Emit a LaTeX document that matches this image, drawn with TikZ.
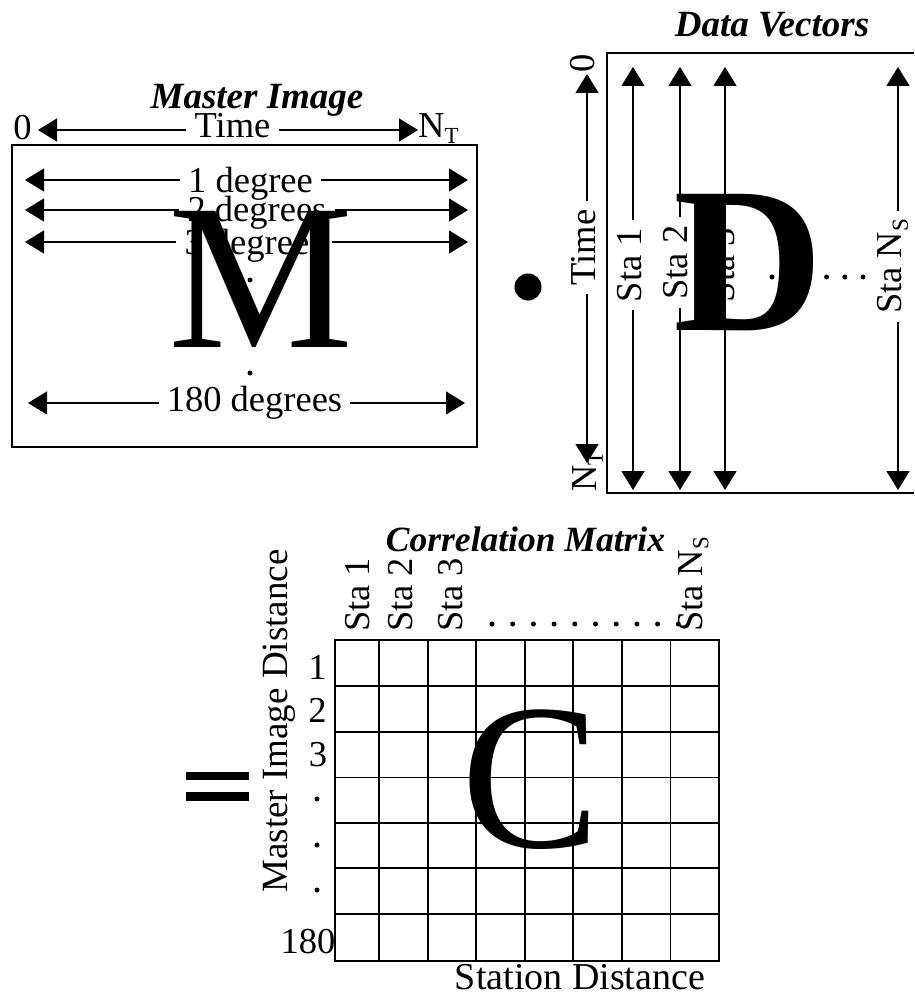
\documentclass[tikz,border=0pt]{standalone}
\usepackage{fontspec}
\setmainfont{Liberation Serif}
\usetikzlibrary{arrows.meta}

\newcommand*{\subtxt}[1]{\raisebox{-6pt}{\fontsize{23}{23}\selectfont #1}}
\newcommand*{\dvtop}{67}
\newcommand*{\dvbot}{490}

\begin{document}
\begin{tikzpicture}
[
	x=1pt,
	y=-1pt,
	every node/.style={inner sep=0pt,font=\fontsize{36.5}{40}\selectfont},
	lbl/.style={inner xsep=8pt},
	vlbl/.style={inner xsep=8pt,rotate=90},
	vec/.style={line width=1.3pt,-{Triangle[length=19pt,width=23pt]}},
	frame/.style={line width=1.8pt},
	heading/.style={font=\fontsize{37}{40}\selectfont\bfseries\itshape},
	bigletter/.style={font=\fontsize{208}{208}\selectfont}
]
	\useasboundingbox (0,0) rectangle (914,995);

	% master image
	\node[heading] (mtitle) at (257,100) {Master Image};
	\draw[frame] (12,145) rectangle (477,447);

	\node (m0) at (22.5,127.5) {0};
	\node[anchor=west] (mnt) at (418,129) {N\subtxt{T}};
	\node[lbl] (mtime) at (232.5,126) {Time};
	\coordinate (mtimeL) at (38,130);
	\coordinate (mtimeR) at (418,130);
	\draw[vec] (mtime.west |- mtimeL) -- (mtimeL);
	\draw[vec] (mtime.east |- mtimeR) -- (mtimeR);

	\node[lbl] (deg1) at (250.5,184) {1 degree};
	\coordinate (deg1L) at (25,180);
	\coordinate (deg1R) at (468,180);
	\draw[vec] (deg1.west |- deg1L) -- (deg1L);
	\draw[vec] (deg1.east |- deg1R) -- (deg1R);

	\node[lbl] (deg2) at (257,212.5) {2 degrees};
	\coordinate (deg2L) at (25,210);
	\coordinate (deg2R) at (468,210);
	\draw[vec] (deg2.west |- deg2L) -- (deg2L);
	\draw[vec] (deg2.east |- deg2R) -- (deg2R);

	\node[lbl] (deg3) at (254,246) {3 degrees};
	\coordinate (deg3L) at (25,242);
	\coordinate (deg3R) at (468,242);
	\draw[vec] (deg3.west |- deg3L) -- (deg3L);
	\draw[vec] (deg3.east |- deg3R) -- (deg3R);

	\fill (250,280) circle (2.5) (250,373) circle (2.5);

	\node[lbl] (deg180) at (254.5,402.5) {180 degrees};
	\coordinate (deg180L) at (28,403);
	\coordinate (deg180R) at (465,403);
	\draw[vec] (deg180.west |- deg180L) -- (deg180L);
	\draw[vec] (deg180.east |- deg180R) -- (deg180R);

	\node[bigletter] (mletter) at (260.5,279) {M};

	% product
	\node[circle,fill,minimum size=27pt] (prod) at (528,287) {};

	% data vectors
	\node[heading] (dtitle) at (772,25) {Data Vectors};
	\draw[frame] (914,53) -- (607,53) -- (607,493) -- (914,493);

	\node[rotate=90] (d0) at (583,63) {0};
	\node[rotate=90] (dnt) at (588,471.5) {N\subtxt{T}};
	\node[vlbl] (dtime) at (583.5,247.5) {Time};
	\coordinate (dtimeT) at (587,74);
	\coordinate (dtimeB) at (587,463);
	\draw[vec] (dtime.east -| dtimeT) -- (dtimeT);
	\draw[vec] (dtime.west -| dtimeB) -- (dtimeB);

	\node[vlbl] (sta1) at (630,265) {Sta 1};
	\coordinate (sta1T) at (633,\dvtop);
	\coordinate (sta1B) at (633,\dvbot);
	\draw[vec] (sta1.east -| sta1T) -- (sta1T);
	\draw[vec] (sta1.west -| sta1B) -- (sta1B);

	\node[vlbl] (sta2) at (675.5,262.5) {Sta 2};
	\coordinate (sta2T) at (680,\dvtop);
	\coordinate (sta2B) at (680,\dvbot);
	\draw[vec] (sta2.east -| sta2T) -- (sta2T);
	\draw[vec] (sta2.west -| sta2B) -- (sta2B);

	\node[vlbl] (sta3) at (723,265) {Sta 3};
	\coordinate (sta3T) at (725,\dvtop);
	\coordinate (sta3B) at (725,\dvbot);
	\draw[vec] (sta3.east -| sta3T) -- (sta3T);
	\draw[vec] (sta3.west -| sta3B) -- (sta3B);

	\node[vlbl] (stan) at (893,266.5) {Sta N\subtxt{S}};
	\coordinate (stanT) at (898,\dvtop);
	\coordinate (stanB) at (898,\dvbot);
	\draw[vec] (stan.east -| stanT) -- (stanT);
	\draw[vec] (stan.west -| stanB) -- (stanB);

	\fill (772,277) circle (2.5) (790.2,277) circle (2.5) (808.4,277) circle (2.5)
		(826.6,277) circle (2.5) (844.8,277) circle (2.5) (863,277) circle (2.5);

	\node[bigletter,font=\fontsize{208}{208}\selectfont\bfseries] (dletter) at (748.5,263) {D};

	% equals sign
	\fill (186,772) rectangle (249,780);
	\fill (186,792) rectangle (249,801);

	% correlation matrix
	\node[font=\fontsize{35.5}{40}\selectfont\bfseries\itshape] (ctitle) at (525.5,539.5) {Correlation Matrix};

	\node[rotate=90,anchor=west] (col1) at (357.5,632) {Sta 1};
	\node[rotate=90,anchor=west] (col2) at (400.5,632) {Sta 2};
	\node[rotate=90,anchor=west] (col3) at (450.5,632) {Sta 3};
	\node[rotate=90,anchor=west] (coln) at (693.5,632) {Sta N\subtxt{S}};
	\fill (492,624) circle (2.5) (512.7,624) circle (2.5) (533.4,624) circle (2.5)
		(554.1,624) circle (2.5) (574.8,624) circle (2.5) (595.5,624) circle (2.5)
		(616.2,624) circle (2.5) (636.9,624) circle (2.5) (657.6,624) circle (2.5)
		(678.3,624) circle (2.5);

	\draw[frame] (335,640) rectangle (719,961);
	\draw[frame] (379,640) -- (379,961) (427.6,640) -- (427.6,961)
		(476.1,640) -- (476.1,961) (524.7,640) -- (524.7,961)
		(573.3,640) -- (573.3,961) (621.9,640) -- (621.9,961)
		(670.4,640) -- (670.4,961);
	\draw[frame] (335,686) -- (719,686) (335,732) -- (719,732)
		(335,777.5) -- (719,777.5) (335,823) -- (719,823)
		(335,868) -- (719,868) (335,914) -- (719,914);

	\node (row1) at (317.5,667) {1};
	\node (row2) at (317.5,710) {2};
	\node (row3) at (318,755) {3};
	\fill (317,799) circle (2.5) (317,845) circle (2.5) (317,890) circle (2.5);
	\node (row180) at (308,942) {180};

	\node[rotate=90,font=\fontsize{37}{40}\selectfont] (ylabel) at (279,721) {Master Image Distance};
	\node[font=\fontsize{38}{40}\selectfont] (xlabel) at (580,977) {Station Distance};

	\node[bigletter] (cletter) at (531,779.5) {C};

\end{tikzpicture}
\end{document}
